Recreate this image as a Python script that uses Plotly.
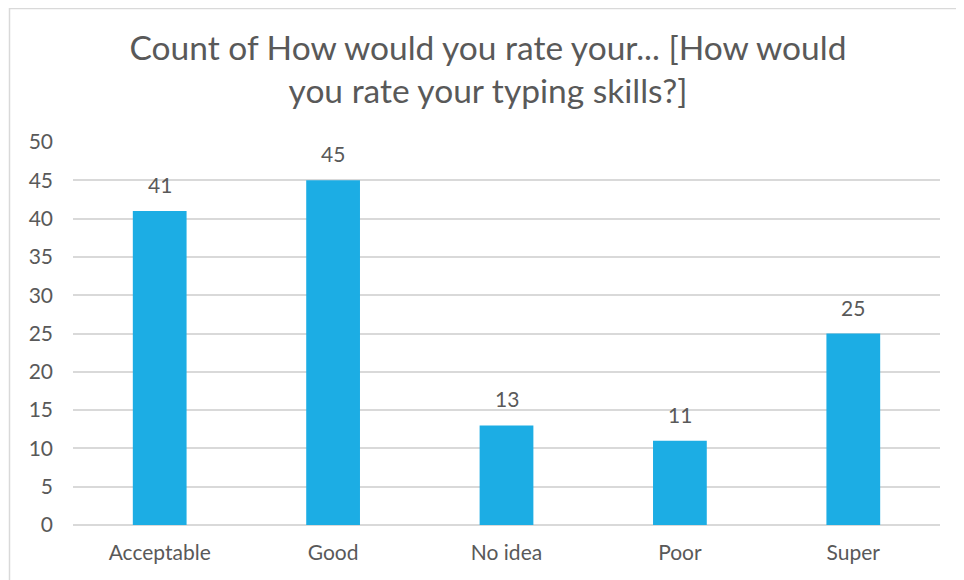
import plotly.graph_objects as go

categories = ["Acceptable", "Good", "No idea", "Poor", "Super"]
counts = [41, 45, 13, 11, 25]
y_ticks = [0, 5, 10, 15, 20, 25, 30, 35, 40, 45, 50]
title_text = "Count of How would you rate your... [How would<br>you rate your typing skills?]"

TEXT = "#595959"
BAR = "#1CADE4"
GRID = "#D9D9D9"
FONT = "Lato, 'Open Sans', sans-serif"

# page body has an 8px margin, so the figure is placed at (8, 8)
OFF = 8
W, H = 956, 572
L, R, T, B = 65, 24, 134, 55
pw, ph = W - L - R, H - T - B

fig = go.Figure()
fig.add_trace(go.Bar(
    x=categories, y=counts, marker=dict(color=BAR, line=dict(width=0)),
    hoverinfo="x+y",
))

for c, v in zip(categories, counts):
    fig.add_annotation(x=c, y=v, text=str(v), showarrow=False,
                       yanchor="bottom", yshift=12,
                       font=dict(size=21, color=TEXT, family=FONT))

def px_x(p):
    return (p - OFF - L) / pw

def px_y(p):
    return (H - B - (p - OFF)) / ph

# chart border (left and top visible)
fig.add_shape(type="rect", xref="paper", yref="paper",
              x0=px_x(9.5), x1=px_x(W + 20), y0=px_y(H + 30), y1=px_y(8.5),
              line=dict(color=GRID, width=1.5), fillcolor="rgba(0,0,0,0)", layer="below")

fig.update_layout(
    width=W, height=H,
    margin=dict(l=L, r=R, t=T, b=B, pad=0),
    paper_bgcolor="white", plot_bgcolor="white",
    bargap=0.69,
    showlegend=False,
    title=dict(text=title_text, x=(488 - OFF) / W, xanchor="center",
               y=1 - 51.5 / H, yanchor="middle",
               font=dict(size=33.5, color=TEXT, family=FONT)),
    font=dict(family=FONT, color=TEXT, size=21),
    xaxis=dict(showline=False, showgrid=False, ticks="", ticklabelstandoff=13,
               tickfont=dict(size=21, color=TEXT)),
    yaxis=dict(range=[0, 50], tickvals=y_ticks, showgrid=True, gridcolor=GRID, gridwidth=1.5,
               zeroline=True, zerolinecolor=GRID, zerolinewidth=1.5, showline=False,
               ticks="", ticklabelstandoff=19, tickfont=dict(size=21, color=TEXT)),
)

fig.write_html("out.html")
